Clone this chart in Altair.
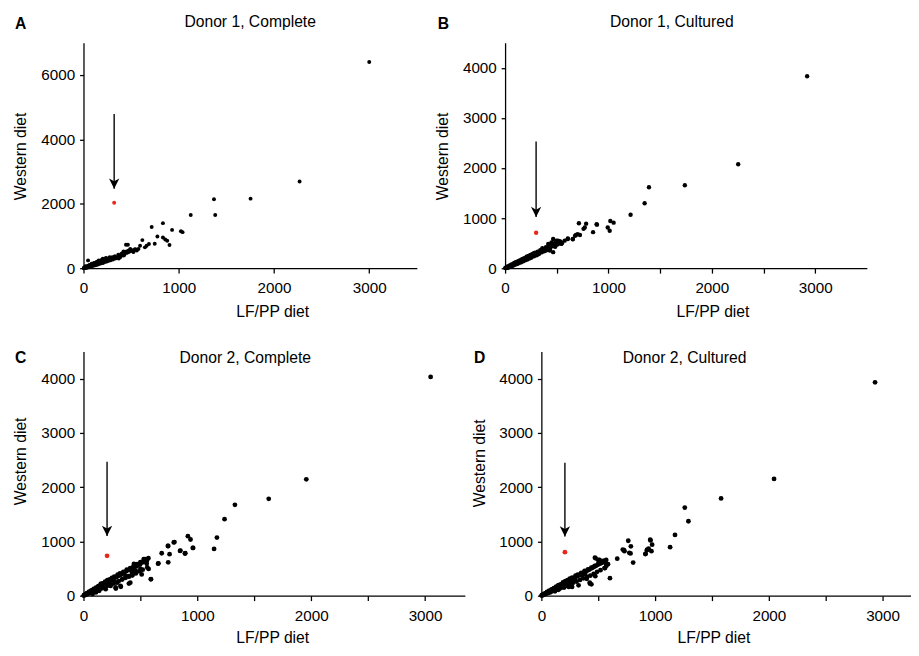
import altair as alt
import pandas as pd

FONT = "Liberation Sans"
RED = "#e8281c"

# ---------------- data ----------------
A_points = [(3000,6400),(2269,2690),(1754,2160),(1370,2140),(1383,1650),(1126,1650),(834,1400),(716,1280),
            (930,1190),(1023,1150),(1040,1120),(776,985),(618,873),(834,953),(858,892),(879,852),(903,720),
            (748,761),(687,750),(663,700),(645,648),(594,700),(577,600),(560,550),(446,730),(466,730),
            (540,590),(520,520),(500,560),(480,540),(460,490),(430,470),(410,430),(390,380),(370,400),(360,350),
            (508,550),(525,500),(491,600),(474,548),(440,497),(422,396),(398,450),(388,345),(371,300),(420,520),
            (455,480),(350,330),(336,300),(320,340),(302,345),(290,300),(280,280),(268,320),(250,250),(240,300),
            (233,260),(220,220),(210,270),(199,250),(190,200),(180,230),(165,180),(160,240),(150,150),(140,200),
            (130,170),(120,130),(110,160),(100,110),(96,90),(85,140),(80,80),(70,60),(62,100),(55,50),(45,70),
            (40,30),(30,40),(27,20),(20,60),(15,10),(10,25),(5,5),(8,12),(3,2),(48,243),(203,294),
            (15,30),(25,10),(35,55),(45,25),(55,80),(65,40),(75,105),(85,60),(95,130),(105,75),(115,155),(125,95),
            (135,175),(145,110),(155,205),(165,130),(175,220),(185,150),(195,270),(205,165),(215,240),(225,190),
            (235,320),(245,210),(255,290),(265,230),(275,340),(285,250),(295,310),(310,270),(330,370),(345,320),
            (365,420),(380,350),(400,410),(415,480),(430,420),(450,520),(470,500),(485,520),(515,540),(530,560),
            (550,580)]
A_red = [(322,2030)]
A_arrow = [(322,4790,2470)]

B_points = [(2922,3831),(2255,2076),(1739,1657),(1392,1617),(1350,1297),(1214,1067),(1018,943),(1050,910),
            (1012,747),(993,812),(889,870),(885,878),(851,720),(784,890),(759,786),(771,812),(714,898),(724,662),
            (686,662),(702,681),(677,648),(655,583),(607,583),(576,550),(528,517),(496,550),(449,517),(465,452),
            (417,485),(433,354),(401,387),(655,576),(607,596),(544,485),(512,550),(481,452),(465,583),(465,321),
            (2,3),(5,8),(10,15),(15,12),(20,25),(28,22),(35,38),(42,30),(50,50),(58,45),(65,60),(72,58),(80,75),
            (90,80),(100,92),(110,98),(120,110),(130,118),(140,128),(150,140),(160,148),(172,160),(185,170),
            (195,185),(205,195),(215,200),(228,215),(240,225),(252,238),(262,250),(275,262),(288,270),(300,280),
            (312,300),(325,310),(338,330),(350,335),(365,355),(378,340),(392,380),(405,400),(420,420),(435,390),
            (450,450),(468,480),(485,430),(500,470),(520,500),(540,520),(30,15),(60,70),(95,110),(125,100),
            (170,185),(210,230),(245,210),(280,300),(320,280),(360,400),(400,360),
            (10,5),(20,10),(25,35),(35,20),(45,55),(55,35),(65,75),(75,50),(85,100),(95,70),(105,120),(115,85),
            (125,140),(135,105),(145,160),(155,120),(165,180),(175,140),(185,200),(195,160),(205,220),(215,175),
            (225,245),(235,195),(245,265),(255,215),(265,285),(280,240),(290,310),(305,260),(315,330),(330,290),
            (340,360),(355,320),(370,380),(385,350),(395,420),(410,370),(425,450),(440,420),(455,500),(470,440),
            (490,520),(510,480),(530,540),(550,500)]
B_red = [(300,708)]
B_arrow = [(300,2530,1020)]

C_points = [(3049,4032),(1957,2146),(1627,1785),(1330,1676),(1239,1410),(1172,1072),(1147,862),(960,880),
            (917,1097),(940,1036),(894,783),(848,826),(793,982),(744,916),(756,765),(744,615),(687,783),(658,597),
            (592,307),(529,675),(557,645),(572,494),(500,494),(443,584),(457,464),(428,374),(399,223),(328,163),
            (284,133),(241,253),(213,283),(155,223),(655,591),(741,916),(799,989),(851,832),(891,778),(963,880),
            (540,675),(555,591),(511,392),(592,301),(497,573),(468,542),(440,482),(425,422),(397,362),(411,241),
            (368,362),(339,301),(325,181),(296,241),(282,151),(253,271),(238,181),(195,121),(167,181),(138,90),
            (109,60),(80,30),
            (2,3),(5,8),(10,15),(15,20),(20,25),(26,35),(32,40),(40,50),(48,55),(55,70),(62,75),(70,85),(78,95),
            (86,100),(95,120),(105,125),(115,140),(125,150),(135,165),(145,170),(155,190),(165,200),(178,215),
            (190,230),(200,240),(212,255),(225,270),(238,280),(250,300),(262,310),(275,330),(290,345),(305,365),
            (318,380),(332,390),(345,415),(360,430),(375,450),(390,470),(405,480),(420,500),(435,520),(450,540),
            (465,555),(480,575),(495,590),(510,610),(525,620),(540,645),(555,660),
            (20,15),(30,45),(40,35),(50,75),(60,50),(70,100),(80,65),(90,125),(100,90),(110,150),(120,100),
            (130,175),(140,120),(150,210),(160,135),(170,225),(180,160),(190,260),(200,175),(210,285),(220,190),
            (230,300),(240,215),(250,330),(260,225),(270,350),(280,245),(300,390),(310,270),(320,410),(340,300),
            (350,440),(370,330),(380,480),(400,350),(410,510),(430,380),(440,540),(460,410),(470,580),(490,450),
            (500,620),(520,480),(530,650),(560,520),(570,690)]
C_red = [(207,735)]
C_arrow = [(207,2470,1100)]

D_points = [(2934,3933),(2046,2153),(1580,1793),(1261,1624),(1293,1372),(1175,1121),(1132,894),(960,1019),
            (974,941),(968,821),(931,851),(917,773),(957,1031),(914,768),(928,839),(943,869),(764,1013),(787,911),
            (807,611),(730,821),(716,851),(773,791),(784,779),(727,839),(667,683),(603,324),(557,611),(572,551),
            (586,581),(543,641),(471,701),(500,659),(569,588),(555,509),(511,659),(477,689),(474,360),(425,240),
            (440,210),(428,222),(399,312),(385,402),(356,372),(327,192),(299,282),(270,162),(241,162),(200,150),
            (150,110),(120,80),
            (2,3),(5,8),(10,12),(15,18),(20,25),(26,30),(32,38),(40,45),(48,55),(55,65),(62,70),(70,80),(78,90),
            (86,100),(95,110),(105,120),(115,130),(125,145),(135,155),(145,165),(155,180),(165,190),(178,205),
            (190,220),(200,230),(212,245),(225,255),(238,270),(250,290),(262,300),(275,315),(290,330),(305,350),
            (318,365),(332,380),(345,395),(360,410),(375,430),(390,450),(405,465),(420,480),(435,500),(450,515),
            (465,535),(480,550),(495,570),(510,585),(525,600),(540,620),(555,640),
            (20,15),(30,40),(40,32),(50,70),(60,48),(70,95),(80,62),(90,118),(100,85),(110,140),(120,95),
            (130,165),(140,115),(150,195),(160,130),(170,210),(180,150),(190,245),(200,170),(210,270),(220,185),
            (230,285),(240,205),(250,315),(260,220),(270,335),(280,240),(300,370),(310,260),(320,390),(340,290),
            (350,420),(370,320),(380,455),(400,345),(410,485),(430,370),(440,515),(460,400),(470,550),(490,440),
            (500,590),(520,470),(530,620),(560,510),(570,660)]
D_red = [(207,803)]
D_arrow = [(207,2450,1090)]

titles = ["Donor 1, Complete", "Donor 1, Cultured", "Donor 2, Complete", "Donor 2, Cultured"]
letters = ["A", "B", "C", "D"]
x_title = "LF/PP diet"
y_title = "Western diet"

A_xticks = [0, 1000, 2000, 3000]
A_yticks = [0, 2000, 4000, 6000]
B_xticks = [0, 500, 1000, 1500, 2000, 2500, 3000]
B_yticks = [0, 1000, 2000, 3000, 4000]
C_xticks = [0, 500, 1000, 1500, 2000, 2500, 3000]
C_yticks = [0, 1000, 2000, 3000, 4000]
D_xticks = [0, 500, 1000, 1500, 2000, 2500, 3000]
D_yticks = [0, 1000, 2000, 3000, 4000]

ARROW_HEAD = "M0,0L-1,-2L0,-1.45L1,-2Z"


def text_layer(txt, px, py, size=16, bold=False, angle=0):
    return alt.Chart(pd.DataFrame({"t": [txt]})).mark_text(
        font=FONT, fontSize=size, fontWeight="bold" if bold else "normal",
        color="black", align="center", baseline="middle", angle=angle
    ).encode(text="t:N", x=alt.value(px), y=alt.value(py))


def panel(pts, red, arrow, xdom, ydom, xticks, yticks, w, h, dot, title, letter, tpos, lpos, xtpos, ytpos):
    df = pd.DataFrame(pts, columns=["x", "y"])
    rdf = pd.DataFrame(red, columns=["x", "y"])
    adf = pd.DataFrame(arrow, columns=["x", "y1", "y2"])
    xs = alt.Scale(domain=xdom, nice=False, zero=False)
    ys = alt.Scale(domain=ydom, nice=False, zero=False)
    common = dict(grid=False, domainColor="black", domainWidth=1.3, tickColor="black", tickWidth=1.3,
                  labelFont=FONT, labelFontSize=15.5, labelColor="black", format="d",
                  labelFlush=False, labelOverlap=False, title=None)
    xa = alt.Axis(values=xticks, tickSize=5, labelPadding=8,
                  labelExpr="datum.value % 1000 == 0 ? datum.label : ''", **common)
    ya = alt.Axis(values=yticks, tickSize=4, labelPadding=5, **common)
    base = alt.Chart(df).mark_circle(size=dot, color="black", opacity=1).encode(
        x=alt.X("x:Q", scale=xs, axis=xa), y=alt.Y("y:Q", scale=ys, axis=ya))
    redl = alt.Chart(rdf).mark_circle(size=dot, color=RED, opacity=1).encode(
        x=alt.X("x:Q", scale=xs), y=alt.Y("y:Q", scale=ys))
    rule = alt.Chart(adf).mark_rule(color="black", strokeWidth=1.4).encode(
        x=alt.X("x:Q", scale=xs), y=alt.Y("y1:Q", scale=ys), y2="y2:Q")
    head = alt.Chart(adf).mark_point(shape=ARROW_HEAD, filled=True, size=110, color="black",
                                     opacity=1, strokeWidth=0).encode(
        x=alt.X("x:Q", scale=xs), y=alt.Y("y2:Q", scale=ys))
    layers = [base, redl, rule, head,
              text_layer(title, tpos[0], tpos[1]),
              text_layer(letter, lpos[0], lpos[1], size=16, bold=True),
              text_layer(x_title, xtpos[0], h + xtpos[1]),
              text_layer(y_title, ytpos[0], ytpos[1], angle=270)]
    return alt.layer(*layers).properties(width=w, height=h)


pA = panel(A_points, A_red, A_arrow, [0, 3500], [0, 7000], A_xticks, A_yticks, 340, 230, 16,
           titles[0], letters[0], (170, -21), (-64, -19), (193, 45), (-64, 116))
pB = panel(B_points, B_red, B_arrow, [0, 3500], [0, 4500], B_xticks, B_yticks, 369, 230, 20,
           titles[1], letters[1], (170, -21), (-63, -19), (212, 45), (-63, 116))
pC = panel(C_points, C_red, C_arrow, [0, 3350], [0, 4500], C_xticks, C_yticks, 389, 249, 24,
           titles[2], letters[2], (165, 7), (-64, 7), (193, 43), (-64, 112))
pD = panel(D_points, D_red, D_arrow, [0, 3250], [0, 4500], D_xticks, D_yticks, 377, 249, 24,
           titles[3], letters[3], (146, 7), (-63, 7), (176, 43), (-62, 114))

row1 = alt.hconcat(pA, pB, spacing=90, bounds="flush")
row2 = alt.hconcat(pC, pD, spacing=78, bounds="flush")
chart = alt.vconcat(row1, row2, spacing=31).properties(
    padding={"left": 5, "top": 0, "right": 0, "bottom": 0}
).configure_view(stroke=None)

chart.save("out.html", embed_options={"renderer": "svg", "actions": False})
